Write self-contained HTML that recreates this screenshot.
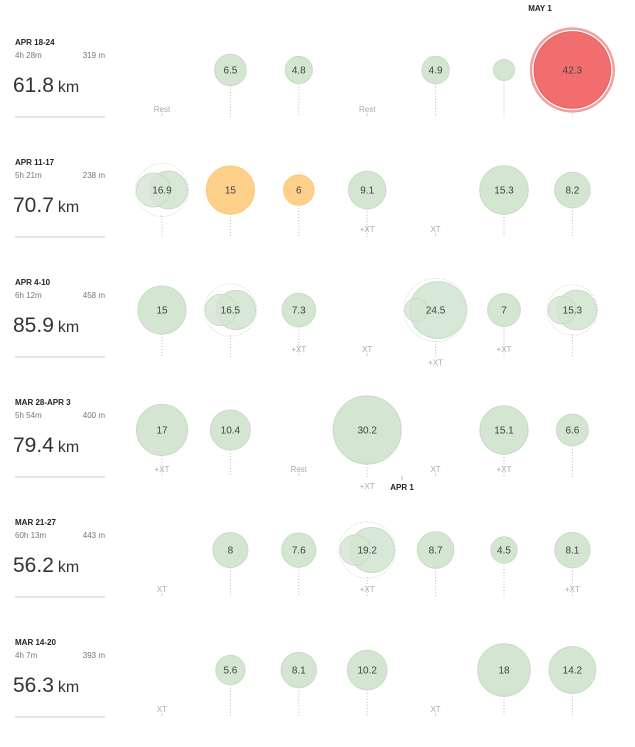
<!DOCTYPE html>
<html><head><meta charset="utf-8">
<style>
html,body{margin:0;padding:0;background:#fff;}
body{width:635px;height:742px;overflow:hidden;font-family:"Liberation Sans",Arial,sans-serif;}
svg text{font-family:"Liberation Sans",Arial,sans-serif;}
</style></head>
<body>
<svg id="chart" width="635" height="742" viewBox="0 0 635 742" xmlns="http://www.w3.org/2000/svg"></svg>
<script>
// ---- data ----
const weekLabels = ["APR 18-24","APR 11-17","APR 4-10","MAR 28-APR 3","MAR 21-27","MAR 14-20"];
const weekTimes = ["4h 28m","5h 21m","6h 12m","5h 54m","60h 13m","4h 7m"];
const weekClimb = ["319 m","238 m","458 m","400 m","443 m","393 m"];
const weekTotals = ["61.8","70.7","85.9","79.4","56.2","56.3"];
// runs per day (km); multiple entries = multiple runs that day; [] = no run
const week0Runs = [[],[6.5],[4.8],[],[4.9],[2.9],[42.3]];
const week1Runs = [[7.5,9.4],[15],[6],[9.1],[],[15.3],[8.2]];
const week2Runs = [[15],[6.5,10],[7.3],[],[3.5,21],[7],[5,10.3]];
const week3Runs = [[17],[10.4],[],[30.2],[],[15.1],[6.6]];
const week4Runs = [[],[8],[7.6],[6,13.2],[8.7],[4.5],[8.1]];
const week5Runs = [[],[5.6],[8.1],[10.2],[],[18],[14.2]];
const week0Notes = ["Rest","","","Rest","","",""];
const week1Notes = ["","","","+XT","XT","",""];
const week2Notes = ["","","+XT","XT","+XT","+XT",""];
const week3Notes = ["+XT","","Rest","+XT","XT","+XT",""];
const week4Notes = ["XT","","","+XT","","","+XT"];
const week5Notes = ["XT","","","","XT","",""];
// day kind: n normal, o orange (workout), r race
const week0Kinds = ["n","n","n","n","n","n","r"];
const week1Kinds = ["n","o","o","n","n","n","n"];
const allRuns=[week0Runs,week1Runs,week2Runs,week3Runs,week4Runs,week5Runs];
const allNotes=[week0Notes,week1Notes,week2Notes,week3Notes,week4Notes,week5Notes];
const allKinds=[week0Kinds,week1Kinds];

const NS="http://www.w3.org/2000/svg";
const svg=document.getElementById('chart');
function mk(tag,attrs,parent){const e=document.createElementNS(NS,tag);for(const k in attrs)e.setAttribute(k,attrs[k]);(parent||svg).appendChild(e);return e;}
const xDay=i=>162+68.4*i;
const yWeek=w=>70+120*w;
const rScale=v=>6.2*Math.sqrt(v);
const fill={n:"#d4e5d2",o:"#fed08a",r:"#f26d6d"};
const stroke={n:"#c8dcc5",o:"#fcc877",r:"#e46060"};

// month markers
let t=mk('text',{x:540,y:11,'font-size':8,'font-weight':'bold',fill:'#222','text-anchor':'middle'});t.textContent="MAY 1";

let tk=mk('line',{x1:402,y1:476,x2:402,y2:480,stroke:'#bbb','stroke-width':1});
t=mk('text',{x:402,y:490,'font-size':8,'font-weight':'bold',fill:'#222','text-anchor':'middle'});t.textContent="APR 1";


weekLabels.forEach((lab,w)=>{
  const cy=yWeek(w);
  const g=mk('g',{});
  
  
  let e=mk('text',{x:15,y:cy-25,'font-size':8,'font-weight':'bold',fill:'#222'},g);e.textContent=lab;
  
  e=mk('text',{x:15,y:cy-12,'font-size':8,fill:'#777'},g);e.textContent=weekTimes[w];
  
  e=mk('text',{x:105,y:cy-12,'font-size':8,fill:'#777','text-anchor':'end'},g);e.textContent=weekClimb[w];
  
  e=mk('text',{x:13,y:cy+22,'font-size':21,fill:'#333'},g);
  
  const s1=mk('tspan',{},e);s1.textContent=weekTotals[w];
  const s2=mk('tspan',{'font-size':16,dx:4},e);s2.textContent="km";
  e=mk('rect',{x:15,y:cy+46,width:90,height:2,fill:'#e6e6e6'},g);
  

  allRuns[w].forEach((runs,d)=>{
    const cx=xDay(d);
    const kind=(allKinds[w]||[])[d]||"n";
    const total=runs.reduce((a,b)=>a+b,0);
    const R=total>0?rScale(total):0;
    const dg=mk('g',{},g);
    
    
    const bottomLine=cy+47;
    if(total>0){
      mk('line',{x1:cx,y1:cy+R,x2:cx,y2:bottomLine,stroke:'#bbb','stroke-width':1,'stroke-dasharray':'1,2'},dg);
      if(runs.length>1){
        const ring=mk('circle',{cx:cx,cy:cy,r:R+1,fill:'none',stroke:'#ccc','stroke-width':0.8,'stroke-dasharray':'1,1.5'},dg);
        
        
        const r1=rScale(runs[0]),r2=rScale(runs[1]);
        const c2=mk('circle',{cx:cx+R-r2,cy:cy,r:r2,fill:fill[kind],stroke:stroke[kind],'stroke-width':1,'fill-opacity':0.9},dg);
        
        
        const c1=mk('circle',{cx:cx-R+r1,cy:cy,r:r1,fill:fill[kind],stroke:stroke[kind],'stroke-width':1,'fill-opacity':0.8},dg);
        
        
      } else {
        if(kind==="r"){
          const ring=mk('circle',{cx:cx,cy:cy,r:R+1,fill:'none',stroke:'#f3a0a0','stroke-width':2.5},dg);
          
          
        }
        const c=mk('circle',{cx:cx,cy:cy,r:kind==="r"?R-2:R,fill:fill[kind],stroke:stroke[kind],'stroke-width':1},dg);
        
        
      }
      if(total>=3.5){
        const lt=mk('text',{x:cx,y:cy+3.5,'font-size':10,fill:'#444','text-anchor':'middle'},dg);
        lt.textContent=String(Math.round(total*10)/10);
        
        
      }
    }
    const note=allNotes[w][d];
    if(note){
      const ny=R>29?cy+R+25:cy+42;
      if(total===0) mk('line',{x1:cx,y1:ny+1,x2:cx,y2:ny+4,stroke:'#ccc','stroke-width':1},dg);
      const nt=mk('text',{x:cx,y:ny,'font-size':8,fill:'#aaa','text-anchor':'middle'},dg);
      nt.textContent=note;
      
      
    }
  });
});
</script>
</body></html>
